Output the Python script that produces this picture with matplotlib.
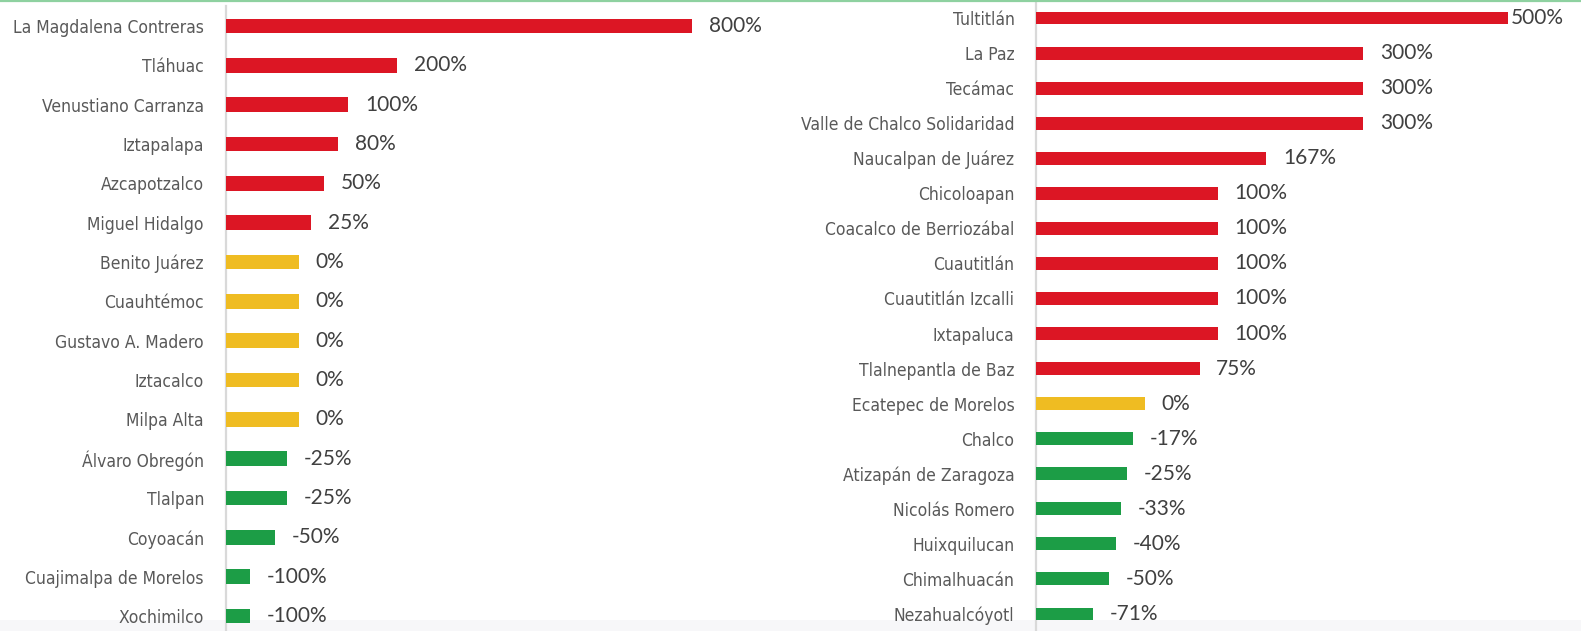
import matplotlib
matplotlib.use("Agg")
import matplotlib.pyplot as plt
from matplotlib import font_manager as fm
from matplotlib.lines import Line2D
from matplotlib.patches import Rectangle

left_labels = ["La Magdalena Contreras", "Tláhuac", "Venustiano Carranza", "Iztapalapa",
               "Azcapotzalco", "Miguel Hidalgo", "Benito Juárez", "Cuauhtémoc",
               "Gustavo A. Madero", "Iztacalco", "Milpa Alta", "Álvaro Obregón",
               "Tlalpan", "Coyoacán", "Cuajimalpa de Morelos", "Xochimilco"]
left_vals = [800, 200, 100, 80, 50, 25, 0, 0, 0, 0, 0, -25, -25, -50, -100, -100]

right_labels = ["Tultitlán", "La Paz", "Tecámac", "Valle de Chalco Solidaridad",
                "Naucalpan de Juárez", "Chicoloapan", "Coacalco de Berriozábal",
                "Cuautitlán", "Cuautitlán Izcalli", "Ixtapaluca", "Tlalnepantla de Baz",
                "Ecatepec de Morelos", "Chalco", "Atizapán de Zaragoza", "Nicolás Romero",
                "Huixquilucan", "Chimalhuacán", "Nezahualcóyotl"]
right_vals = [500, 300, 300, 300, 167, 100, 100, 100, 100, 100, 75, 0, -17, -25, -33, -40, -50, -71]

RED, YELLOW, GREEN = "#DC1624", "#EFBC22", "#1C9D46"

# pick a condensed font if available
names = {f.name for f in fm.fontManager.ttflist}
cond_kw = {"family": "DejaVu Sans"}
if "Liberation Sans Narrow" in names:
    cond_kw = {"family": "Liberation Sans Narrow"}
elif any(f.name == "DejaVu Sans" and f.stretch == "condensed" for f in fm.fontManager.ttflist):
    cond_kw = {"family": "DejaVu Sans", "stretch": "condensed"}
num_family = "Lato" if "Lato" in names else "DejaVu Sans"

W, H = 1581, 631
fig = plt.figure(figsize=(W / 100, H / 100), dpi=100)
fig.patch.set_facecolor("white")
fig.patches.append(Rectangle((0, 0), 1, 11 / H, transform=fig.transFigure,
                             facecolor="#f7f7f9", edgecolor="none", zorder=-5))
fig.add_artist(Line2D([0, 1], [1 - 0.8 / H] * 2, color="#8ed1a0", lw=1.6))


def color_for(v):
    return RED if v > 0 else (YELLOW if v == 0 else GREEN)


def panel(rect, labels, vals, xlim, ylim, bh, fs_lab, fs_val, special_close=None):
    ax = fig.add_axes(rect)
    ax.patch.set_alpha(0)
    base = xlim[0]
    ys = list(range(len(vals)))
    ax.barh(ys, [v - base for v in vals], left=base, height=bh,
            color=[color_for(v) for v in vals], zorder=3)
    ax.set_xlim(*xlim)
    ax.set_ylim(*ylim)
    ax.set_yticks(ys)
    ax.set_yticklabels(labels, color="#595959", fontsize=fs_lab, **cond_kw)
    ax.tick_params(axis="y", length=0, pad=15.5)
    ax.set_xticks([])
    for s in ["top", "right", "bottom"]:
        ax.spines[s].set_visible(False)
    ax.spines["left"].set_color("#d9d9d9")
    ax.spines["left"].set_linewidth(1.6)
    for i, v in enumerate(vals):
        off = 12
        if special_close is not None and i == special_close:
            off = 1.5
        ax.annotate(f"{v}%", (v, i), xytext=(off, 0), textcoords="offset points",
                    ha="left", va="center", fontsize=fs_val, color="#404040",
                    family=num_family, annotation_clip=False)
    return ax


panel([225.5 / W, 0, (741 - 225.5) / W, 1 - 6 / H], left_labels, left_vals,
      (-150, 900), (15 + 15 / 39.33, -20 / 39.33), 0.38, 12.5, 15)
panel([1036 / W, 0, (W - 1036) / W, 1], right_labels, right_vals,
      (-150, 600), (17 + 17 / 35.06, -18 / 35.06), 0.37, 12.5, 15, special_close=0)

fig.savefig("out.png", dpi=100)
